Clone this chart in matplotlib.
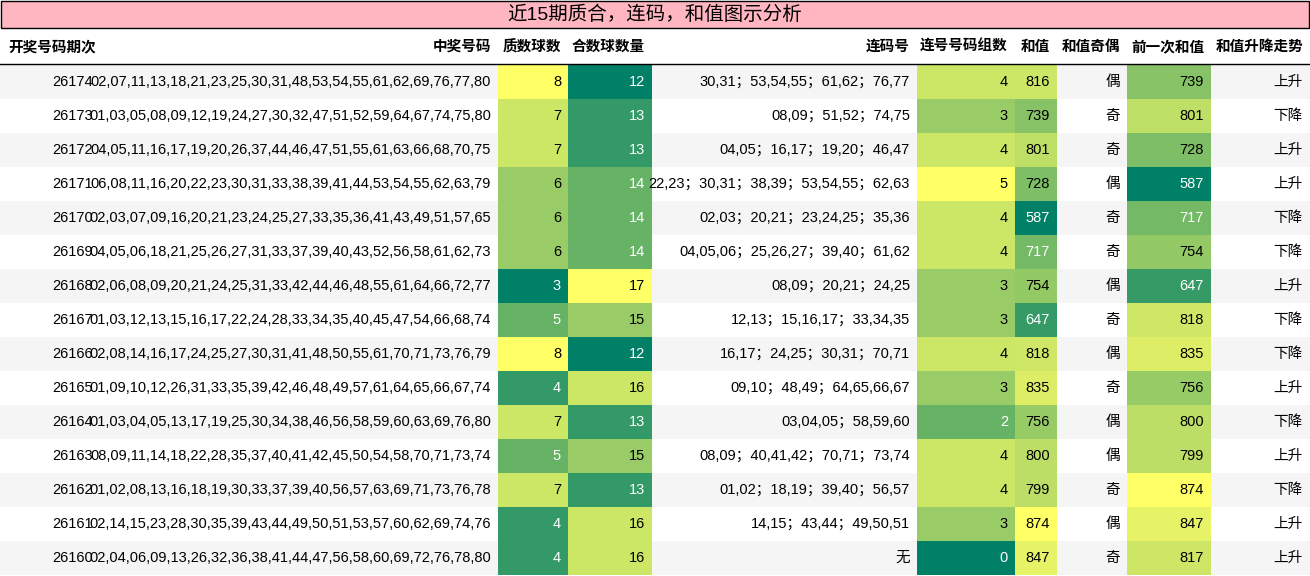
import matplotlib
matplotlib.use("Agg")
import matplotlib.pyplot as plt
import numpy as np

title = "近15期质合，连码，和值图示分析"
headers = ["开奖号码期次", "中奖号码", "质数球数", "合数球数量", "连码号", "连号号码组数", "和值", "和值奇偶", "前一次和值", "和值升降走势"]
periods = [26174, 26173, 26172, 26171, 26170, 26169, 26168, 26167, 26166, 26165, 26164, 26163, 26162, 26161, 26160]
numbers = [
    "02,07,11,13,18,21,23,25,30,31,48,53,54,55,61,62,69,76,77,80",
    "01,03,05,08,09,12,19,24,27,30,32,47,51,52,59,64,67,74,75,80",
    "04,05,11,16,17,19,20,26,37,44,46,47,51,55,61,63,66,68,70,75",
    "06,08,11,16,20,22,23,30,31,33,38,39,41,44,53,54,55,62,63,79",
    "02,03,07,09,16,20,21,23,24,25,27,33,35,36,41,43,49,51,57,65",
    "04,05,06,18,21,25,26,27,31,33,37,39,40,43,52,56,58,61,62,73",
    "02,06,08,09,20,21,24,25,31,33,42,44,46,48,55,61,64,66,72,77",
    "01,03,12,13,15,16,17,22,24,28,33,34,35,40,45,47,54,66,68,74",
    "02,08,14,16,17,24,25,27,30,31,41,48,50,55,61,70,71,73,76,79",
    "01,09,10,12,26,31,33,35,39,42,46,48,49,57,61,64,65,66,67,74",
    "01,03,04,05,13,17,19,25,30,34,38,46,56,58,59,60,63,69,76,80",
    "08,09,11,14,18,22,28,35,37,40,41,42,45,50,54,58,70,71,73,74",
    "01,02,08,13,16,18,19,30,33,37,39,40,56,57,63,69,71,73,76,78",
    "02,14,15,23,28,30,35,39,43,44,49,50,51,53,57,60,62,69,74,76",
    "02,04,06,09,13,26,32,36,38,41,44,47,56,58,60,69,72,76,78,80",
]
primes = [8, 7, 7, 6, 6, 6, 3, 5, 8, 4, 7, 5, 7, 4, 4]
composites = [12, 13, 13, 14, 14, 14, 17, 15, 12, 16, 13, 15, 13, 16, 16]
consec = ["30,31；53,54,55；61,62；76,77", "08,09；51,52；74,75", "04,05；16,17；19,20；46,47",
          "22,23；30,31；38,39；53,54,55；62,63", "02,03；20,21；23,24,25；35,36", "04,05,06；25,26,27；39,40；61,62",
          "08,09；20,21；24,25", "12,13；15,16,17；33,34,35", "16,17；24,25；30,31；70,71",
          "09,10；48,49；64,65,66,67", "03,04,05；58,59,60", "08,09；40,41,42；70,71；73,74",
          "01,02；18,19；39,40；56,57", "14,15；43,44；49,50,51", "无"]
groups = [4, 3, 4, 5, 4, 4, 3, 3, 4, 3, 2, 4, 4, 3, 0]
sums = [816, 739, 801, 728, 587, 717, 754, 647, 818, 835, 756, 800, 799, 874, 847]
parity = ["偶", "奇", "奇", "偶", "奇", "奇", "偶", "奇", "偶", "奇", "偶", "偶", "奇", "偶", "奇"]
prev_sums = [739, 801, 728, 587, 717, 754, 647, 818, 835, 756, 800, 799, 874, 847, 817]
trend = ["上升", "下降", "上升", "上升", "下降", "下降", "上升", "下降", "下降", "上升", "下降", "上升", "下降", "上升", "上升"]

plt.rcParams['font.family'] = ['Liberation Sans', 'Noto Sans CJK SC', 'DejaVu Sans']
W, H = 1310, 576
fig = plt.figure(figsize=(W/100, H/100), dpi=100)
ax = fig.add_axes([0, 0, 1, 1])
ax.set_xlim(0, W); ax.set_ylim(H, 0); ax.axis('off')

edges = [0, 100, 498, 568, 652, 917, 1015, 1057, 1127, 1211, 1310]
top0, hdr_bot, rh = 28, 64, 34
cmap = plt.get_cmap('summer')

ax.add_patch(plt.Rectangle((1, 1), W-2, 27, facecolor='#ffb6c1', edgecolor='black', lw=1))
ax.text(W/2, 15, title, ha='center', va='center', fontsize=14)
for i, h in enumerate(headers):
    r = edges[i+1] - 7
    if i == 0:
        ax.text(edges[0]+8, 47, h, ha='left', va='center', fontsize=10.5, fontweight='bold')
    else:
        ax.text(r, 47, h, ha='right', va='center', fontsize=10.5, fontweight='bold')
ax.plot([0, W], [hdr_bot, hdr_bot], color='black', lw=1)

def cell(ci, ri, val, lo, hi, txt):
    y = hdr_bot + 1 + ri*rh
    t = (val - lo) / (hi - lo)
    ax.add_patch(plt.Rectangle((edges[ci], y), edges[ci+1]-edges[ci], rh, facecolor=cmap(t), lw=0))
    ax.text(edges[ci+1]-7, y+rh/2, txt, ha='right', va='center', fontsize=10.5,
            color='white' if t < 0.48 else 'black')

allsum = sums + prev_sums
for ri in range(15):
    y = hdr_bot + 1 + ri*rh
    if ri % 2 == 0:
        ax.add_patch(plt.Rectangle((0, y), W, rh, facecolor='#f5f5f5', lw=0))
    yc = y + rh/2
    plain = {0: str(periods[ri]), 1: numbers[ri], 4: consec[ri], 7: parity[ri], 9: trend[ri]}
    for ci, s in plain.items():
        ax.text(edges[ci+1]-7, yc, s, ha='right', va='center', fontsize=10.5)
    cell(2, ri, primes[ri], min(primes), max(primes), str(primes[ri]))
    cell(3, ri, composites[ri], min(composites), max(composites), str(composites[ri]))
    cell(5, ri, groups[ri], min(groups), max(groups), str(groups[ri]))
    cell(6, ri, sums[ri], min(allsum), max(allsum), str(sums[ri]))
    cell(8, ri, prev_sums[ri], min(allsum), max(allsum), str(prev_sums[ri]))

fig.savefig("out.png", dpi=100)
